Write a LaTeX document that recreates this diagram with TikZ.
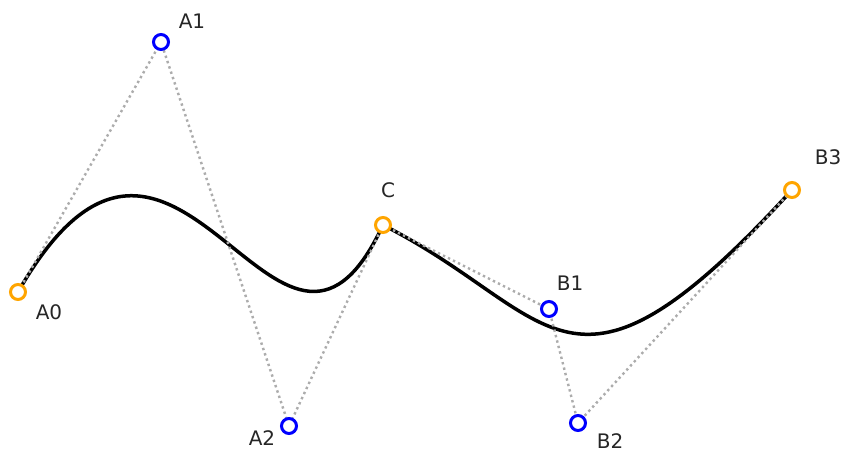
\documentclass[tikz,border=0pt]{standalone}
\usepackage{fontspec}
\setmainfont{DejaVu Sans}
\usetikzlibrary{calc}
\definecolor{ptorange}{RGB}{255,165,0}
\definecolor{ptblue}{RGB}{0,0,255}
\tikzset{
    endpt/.style={circle, draw=ptorange, fill=white, line width=3pt, minimum size=15pt, inner sep=0pt},
    ctrlpt/.style={circle, draw=ptblue, fill=white, line width=3pt, minimum size=15pt, inner sep=0pt},
    hull/.style={gray!65, line width=2.4pt, dash pattern=on 2.4pt off 3.2pt},
    ptlabel/.style={font=\fontsize{20}{24}\selectfont, text=black!85, inner sep=0pt},
}
\begin{document}
\begin{tikzpicture}[x=1pt, y=-1pt]
    \useasboundingbox (0,0) rectangle (845,453);

    % Punkte
    \coordinate (pa0) at (18,292);
    \coordinate (pa1) at (161,42);
    \coordinate (pa2) at (289,426);
    \coordinate (pc)  at (383,225);
    \coordinate (pb1) at (549,309);
    \coordinate (pb2) at (578,423);
    \coordinate (pb3) at (792,190);

    % Kurve
    \draw[line width=3.5pt] (pa0) .. controls ($(pa0)!1.11!(pa1)$) and ($(pc)!1.11!(pa2)$) .. (pc)
        .. controls ($(pc)!1.05!(pb1)$) and ($(pb3)!1.05!(pb2)$) .. (pb3);

    % Kontrollpolygon
    \draw[hull] (pa0) -- (pa1) -- (pa2) -- (pc);
    \draw[hull] (pc) -- (pb1) -- (pb2) -- (pb3);

    % Kreise
    \node[endpt]  (a0) at (pa0) {};
    \node[ctrlpt] (a1) at (pa1) {};
    \node[ctrlpt] (a2) at (pa2) {};
    \node[endpt]  (c)  at (pc)  {};
    \node[ctrlpt] (b1) at (pb1) {};
    \node[ctrlpt] (b2) at (pb2) {};
    \node[endpt]  (b3) at (pb3) {};

    % Beschriftungen
    \node[ptlabel] (la0) at (49,312)  {A0};
    \node[ptlabel] (la1) at (192,21)  {A1};
    \node[ptlabel] (la2) at (262,438) {A2};
    \node[ptlabel] (lc)  at (388,190) {C};
    \node[ptlabel] (lb1) at (570,283) {B1};
    \node[ptlabel] (lb2) at (610,441) {B2};
    \node[ptlabel] (lb3) at (828,157) {B3};
\end{tikzpicture}
\end{document}
